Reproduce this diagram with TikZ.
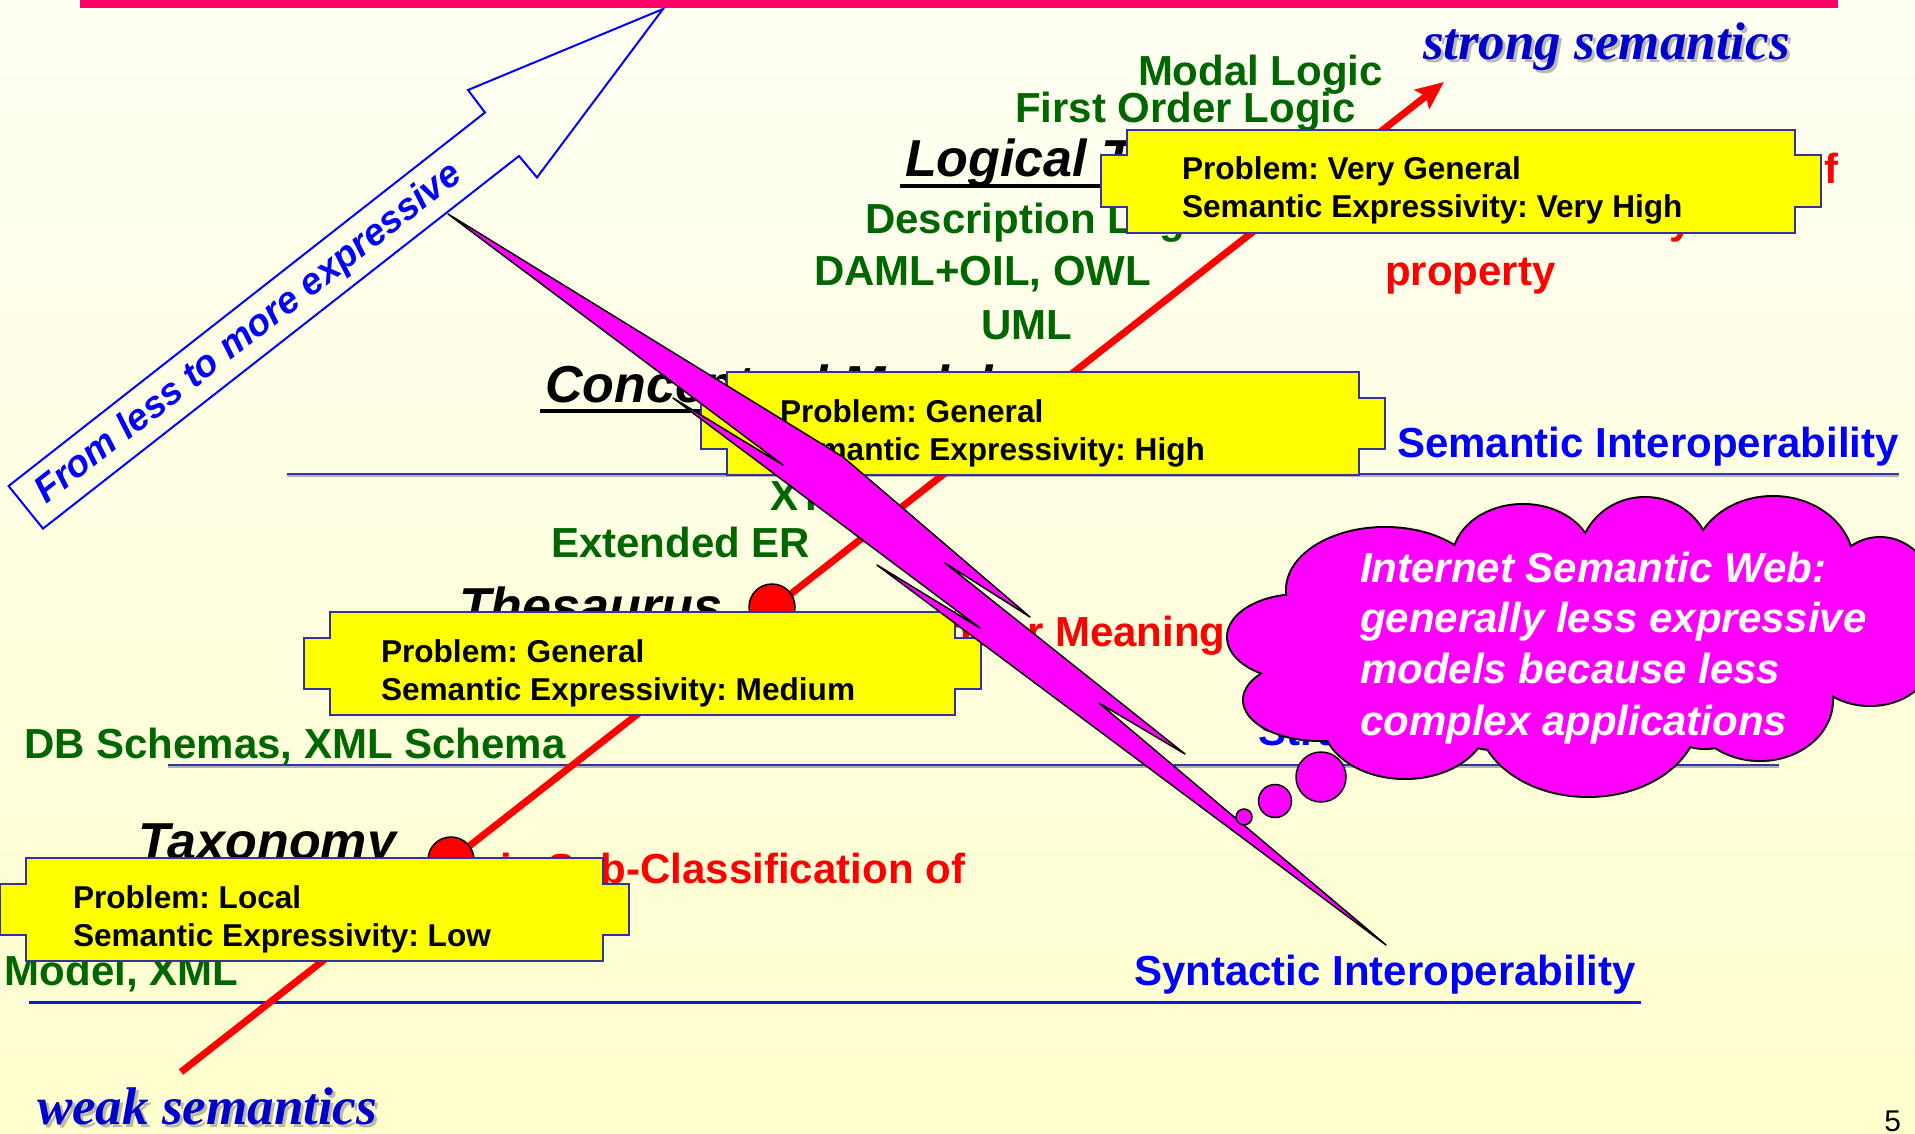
\documentclass[tikz,border=0pt]{standalone}
\usepackage{fontspec}
\setmainfont{Liberation Sans}
\newfontfamily\tnrfont{Liberation Serif}
\usetikzlibrary{arrows.meta}
\frenchspacing
\definecolor{bgtop}{RGB}{255,255,244}
\definecolor{bgbot}{RGB}{255,255,206}
\definecolor{topline}{RGB}{255,0,102}
\definecolor{dgreen}{RGB}{0,102,0}
\definecolor{boxline}{RGB}{51,51,153}
\definecolor{semline}{RGB}{51,51,170}
\definecolor{synline}{RGB}{20,20,230}
\definecolor{sblue}{RGB}{0,0,204}
\definecolor{mag}{RGB}{255,0,255}
\definecolor{yel}{RGB}{255,255,0}
\tikzset{
  lbl/.style={anchor=base west, inner sep=0pt, outer sep=0pt},
  gtxt/.style={lbl, text=dgreen, font=\fontsize{42}{48}\selectfont\bfseries},
  rtxt/.style={lbl, text=red, font=\fontsize{42}{48}\selectfont\bfseries},
  btxt/.style={lbl, text=blue, font=\fontsize{42}{48}\selectfont\bfseries},
  htxt/.style={lbl, text=black, font=\fontsize{52}{60}\selectfont\bfseries\itshape},
  ytxt/.style={lbl, text=black, font=\fontsize{31.6}{36}\selectfont\bfseries},
  ctxt/.style={lbl, text=white, font=\fontsize{42}{48}\selectfont\bfseries\itshape},
  stxt/.style={lbl, text=sblue, font=\fontsize{53}{60}\selectfont\tnrfont\bfseries\itshape},
  sshadow/.style={lbl, text=black!45, opacity=0.6, font=\fontsize{53}{60}\selectfont\tnrfont\bfseries\itshape},
  ybox/.style={fill=yel, draw=boxline, line width=2pt, line join=miter},
  hlshadow/.style={draw=black!30, line width=4.5pt},
  hl/.style={draw=semline, line width=2.5pt},
  dot/.style={circle, fill=red, draw=black, line width=1.5pt, minimum size=46pt, inner sep=0pt},
  bub/.style={fill=mag, draw=black, line width=1.5pt},
  uline/.style={draw=black, line width=4pt},
}
\newcommand{\yshape}[3]{%
  \draw[ybox] (#1,#2) -- (#3,#2) -- (#3,#2+25.5) -- (#3+26,#2+25.5) -- (#3+26,#2+77) -- (#3,#2+77) -- (#3,#2+103) -- (#1,#2+103) -- (#1,#2+77) -- (#1-26,#2+77) -- (#1-26,#2+25.5) -- (#1,#2+25.5) -- cycle;}
\begin{document}
\begin{tikzpicture}[x=1pt,y=-1pt]
\path[use as bounding box] (0,0) rectangle (1915,1134);
\clip (0,0) rectangle (1915,1134);
% background
\shade[top color=bgtop, bottom color=bgbot] (0,0) rectangle (1915,1134);
\fill[topline] (80,0) rectangle (1838,8);

% horizontal interoperability lines
\coordinate (sem1) at (287,474); \coordinate (sem2) at (1899,474);
\coordinate (str1) at (168,765); \coordinate (str2) at (1779,765);
\coordinate (syn1) at (29,1002); \coordinate (syn2) at (1641,1002);
\draw[hlshadow] ([yshift=-1pt]sem1) -- ([yshift=-1pt]sem2);
\draw[hl] (sem1) -- (sem2);
\draw[hlshadow] ([yshift=-1pt]str1) -- ([yshift=-1pt]str2);
\draw[hl] (str1) -- (str2);
\draw[draw=synline, line width=3pt] (syn1) -- (syn2);

% red axis
\coordinate (weak) at (181,1072);
\coordinate (strong) at (1444,82);
\draw[red, line width=7pt, -{Stealth[length=28pt,width=24pt,inset=5pt]}] (weak) -- (strong);
\node[dot] (dtax) at (451,860) {};
\node[dot] (dthe) at (772,607) {};

% green labels
\node[gtxt] (modal) at (1138,86) {Modal Logic};
\node[gtxt] (fol) at (1015,123) {First Order Logic};
\node[gtxt] (dl) at (865,234) {Description Logic};
\node[gtxt] (daml) at (814,286) {DAML+OIL, OWL};
\node[gtxt] (uml) at (981,339) {UML};
\node[gtxt] (xtm) at (770,510) {XTM};
\node[gtxt] (eer) at (551,557) {Extended ER};
\node[gtxt] (dbs) at (24,758) {DB Schemas, XML Schema};
\node[gtxt] (rel) at (5,985) {Model, XML};

% red relation labels
\node[rtxt, anchor=base east] (rl1) at (1838,184) {is Disjoint Subclass of};
\node[rtxt] (rl2) at (1385,234) {with transitivity};
\node[rtxt] (rl3) at (1385,285) {property};
\node[rtxt] (rth) at (775,646) {has Narrower Meaning Than};
\node[rtxt, anchor=base east] (rtx) at (965,883) {is Sub-Classification of};

% blue interoperability labels
\node[btxt] (semi) at (1397,457) {Semantic Interoperability};
\node[btxt] (stri) at (1258,745) {Structural Interoperability};
\node[btxt] (syni) at (1134,985) {Syntactic Interoperability};

% black headings
\node[htxt] (lt) at (905,177) {Logical Theory};
\draw[uline] ([xshift=-5pt,yshift=-9pt]lt.base west) -- ([yshift=-9pt]lt.base east);
\node[htxt] (cm) at (545,402) {Conceptual Model};
\draw[uline] ([xshift=-5pt,yshift=-9pt]cm.base west) -- ([yshift=-9pt]cm.base east);
\node[htxt] (th) at (459,624) {Thesaurus};
\node[htxt] (tx) at (138,859) {Taxonomy};

% big outline arrow
\coordinate (ar1) at (663,9);
\coordinate (ar2) at (468,90);
\coordinate (ar3) at (485,112.5);
\coordinate (ar4) at (8.6,486);
\coordinate (ar5) at (43,528.6);
\coordinate (ar6) at (519,156);
\coordinate (ar7) at (537,177.5);
\draw[blue, line width=2pt, line join=miter] (ar1) -- (ar2) -- (ar3) -- (ar4) -- (ar5) -- (ar6) -- (ar7) -- cycle;
\node[inner sep=0pt, rotate=38, text=blue, font=\fontsize{37.5}{44}\selectfont\bfseries\itshape] (arrtxt) at (249,334) {From less to more expressive};

% yellow boxes
\yshape{1127}{130}{1795}
\node[ytxt] (b1a) at (1182,180) {Problem: Very General};
\node[ytxt] (b1b) at (1182,218) {Semantic Expressivity: Very High};
\yshape{727}{372}{1359}
\node[ytxt] (b2a) at (780,422) {Problem: General};
\node[ytxt] (b2b) at (780,460) {Semantic Expressivity: High};
\yshape{330}{612}{955}
\node[ytxt] (b3a) at (381,662) {Problem: General};
\node[ytxt] (b3b) at (381,700) {Semantic Expressivity: Medium};
\yshape{26}{858}{603}
\node[ytxt] (b4a) at (73,908) {Problem: Local};
\node[ytxt] (b4b) at (73,946) {Semantic Expressivity: Low};

% lightning bolt
\coordinate (bA) at (448,214);
\coordinate (bB) at (843,457);
\coordinate (bT1) at (1030,617);
\coordinate (bC) at (945,563);
\coordinate (bT2) at (1185,754);
\coordinate (bD) at (1099,703);
\coordinate (bE) at (1386,945);
\coordinate (bG) at (877,565);
\coordinate (bT3) at (980,628);
\coordinate (bH) at (673,398);
\coordinate (bT4) at (783,465);
\filldraw[fill=mag, draw=black, line width=1.5pt, line join=round] (bA) -- (bB) -- (bT1) -- (bC) -- (bT2) -- (bD) -- (bE) -- (bG) -- (bT3) -- (bH) -- (bT4) -- cycle;

% cloud
\begin{scope}
\foreach \cx/\cy/\rx/\ry in {1300/637/72/42, 1320/700/76/40, 1405/720/82/58, 1588/715/110/81, 1760/700/72/60, 1870/660/60/45, 1880/600/55/62, 1773/565/80/68, 1645/560/65/62, 1523/560/70/55, 1385/590/98/62, 1570/645/250/110, 1705/722/38/26}
  \draw[black, line width=4pt] (\cx,\cy) ellipse [x radius=\rx pt, y radius=\ry pt];
\foreach \cx/\cy/\rx/\ry in {1300/637/72/42, 1320/700/76/40, 1405/720/82/58, 1588/715/110/81, 1760/700/72/60, 1870/660/60/45, 1880/600/55/62, 1773/565/80/68, 1645/560/65/62, 1523/560/70/55, 1385/590/98/62, 1570/645/250/110, 1800/630/60/40, 1705/722/38/26}
  \fill[mag] (\cx,\cy) ellipse [x radius=\rx pt, y radius=\ry pt];
\end{scope}
\node[ctxt] (c1) at (1360,582) {Internet Semantic Web:};
\node[ctxt] (c2) at (1360,632) {generally less expressive};
\node[ctxt] (c3) at (1360,683) {models because less};
\node[ctxt] (c4) at (1360,735) {complex applications};

% thought bubbles
\filldraw[bub] (1244,817) circle [radius=8pt];
\filldraw[bub] (1275,801) circle [radius=16.5pt];
\filldraw[bub] (1321,777) circle [radius=25pt];

% strong / weak semantics
\node[sshadow] (strongsh) at (1426,63) {strong semantics};
\node[stxt] (strongt) at (1423,60) {strong semantics};
\node[sshadow] (weaksh) at (40,1127) {weak semantics};
\node[stxt] (weakt) at (37,1124) {weak semantics};

% page number
\node[lbl, anchor=base east, font=\fontsize{30}{36}\selectfont] (pg) at (1901,1131) {5};
\end{tikzpicture}
\end{document}
